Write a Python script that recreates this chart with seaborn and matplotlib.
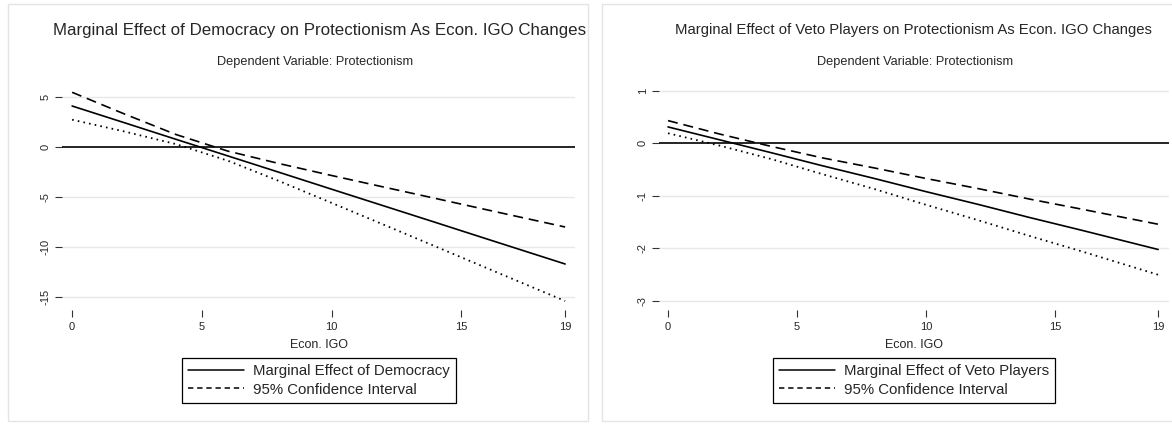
"""Marginal effect plots (Stata-style) redrawn with seaborn."""

import matplotlib
matplotlib.use('Agg')
import numpy as np
import pandas as pd
import matplotlib.pyplot as plt
from matplotlib.lines import Line2D
from matplotlib.patches import Rectangle
import seaborn as sns


# ---------------------------------------------------------------------------
# Data
# ---------------------------------------------------------------------------

econ_igo = [0, 2, 4, 6, 8, 10, 12, 14, 16, 19]

dem_effect = [4.10, 2.44, 0.77, -0.89, -2.55, -4.22, -5.88, -7.54, -9.21, -11.70]
dem_upper = [5.47, 3.32, 1.25, -0.41, -1.67, -2.85, -4.00, -5.14, -6.29, -8.00]
dem_lower = [2.73, 1.56, 0.29, -1.37, -3.43, -5.59, -7.76, -9.94, -12.13, -15.40]

veto_effect = [0.31, 0.065, -0.18, -0.43, -0.67, -0.92, -1.16, -1.41, -1.65, -2.02]
veto_upper = [0.43, 0.175, -0.06, -0.28, -0.47, -0.67, -0.86, -1.06, -1.25, -1.54]
veto_lower = [0.19, -0.045, -0.30, -0.59, -0.87, -1.17, -1.46, -1.76, -2.05, -2.50]

dem_yticks = [5, 0, -5, -10, -15]
veto_yticks = [1, 0, -1, -2, -3]
xticks = [0, 5, 10, 15, 19]

SUBTITLE = 'Dependent Variable: Protectionism'
XLABEL = 'Econ. IGO'
CI_LABEL = '95% Confidence Interval'

W, H = 1172, 425


def fx(px):
    return px / W


def fy(py):
    return 1 - py / H


def draw_panel(fig, rect, effect, upper, lower, xlim, ylim, yticks):
    ax = fig.add_axes(rect)
    df = pd.DataFrame({'x': econ_igo, 'effect': effect, 'upper': upper, 'lower': lower})

    for y in yticks:
        if y != 0:
            ax.axhline(y, color='#e8e8e8', linewidth=1.0, zorder=0)
    ax.axhline(0, color='black', linewidth=1.2, zorder=1)

    sns.lineplot(data=df, x='x', y='effect', ax=ax, color='black', linewidth=1.2)
    sns.lineplot(data=df, x='x', y='upper', ax=ax, color='black', linewidth=1.2,
                 dashes=False, linestyle=(0, (6, 3.5)))
    sns.lineplot(data=df, x='x', y='lower', ax=ax, color='black', linewidth=1.3,
                 linestyle=(0, (0.9, 2.3)))

    ax.set_xlim(*xlim)
    ax.set_ylim(*ylim)
    ax.set_xticks(xticks)
    ax.set_yticks(yticks)
    ax.set_yticklabels([str(t) for t in yticks], rotation=90, va='center')
    ax.tick_params(axis='both', direction='out', length=5, width=0.8,
                   color='#333333', labelsize=8, pad=3, bottom=True, left=True)
    ax.tick_params(axis='x', pad=4)
    for s in ax.spines.values():
        s.set_visible(False)
    ax.grid(False)
    ax.set_ylabel('')
    ax.set_xlabel(XLABEL, fontsize=9, labelpad=5)
    if ax.get_legend():
        ax.get_legend().remove()
    return ax


def add_legend(fig, ax, label, cx):
    handles = [
        Line2D([], [], color='black', linewidth=1.1),
        Line2D([], [], color='black', linewidth=1.1, linestyle=(0, (3.5, 2.5))),
    ]
    ax.legend(handles, [label, CI_LABEL], loc='upper center',
              bbox_to_anchor=(fx(cx), fy(358)), bbox_transform=fig.transFigure,
              fontsize=10.8, frameon=True, fancybox=False, edgecolor='black',
              framealpha=1, handlelength=3.7, handletextpad=0.6,
              labelspacing=0.3, borderpad=0.4, borderaxespad=0)
    ax.get_legend().get_frame().set_linewidth(0.9)


sns.set_theme(style='white')
plt.rcParams['font.family'] = ['Liberation Sans', 'DejaVu Sans']

fig = plt.figure(figsize=(W / 100, H / 100), dpi=100)

# panel frames
for x0 in (8, 602):
    fig.patches.append(Rectangle((fx(x0), fy(421)), fx(580), 417 / H,
                                 transform=fig.transFigure, fill=False,
                                 edgecolor='#e4e4e4', linewidth=1.0))

ax1 = draw_panel(fig, [fx(62), fy(310), fx(513), 222 / H],
                 dem_effect, dem_upper, dem_lower,
                 (-0.39, 19.38), (-16.3, 5.9), dem_yticks)
ax2 = draw_panel(fig, [fx(659), fy(310), fx(510), 222 / H],
                 veto_effect, veto_upper, veto_lower,
                 (-0.35, 19.42), (-3.17, 1.05), veto_yticks)

fig.text(fx(320), fy(31), 'Marginal Effect of Democracy on Protectionism As Econ. IGO Changes',
         ha='center', va='center', fontsize=12.2)
fig.text(fx(913), fy(30), 'Marginal Effect of Veto Players on Protectionism As Econ. IGO Changes',
         ha='center', va='center', fontsize=10.7)
fig.text(fx(315), fy(62), SUBTITLE, ha='center', va='center', fontsize=9.2)
fig.text(fx(915), fy(62), SUBTITLE, ha='center', va='center', fontsize=9.2)

add_legend(fig, ax1, 'Marginal Effect of Democracy', 319)
add_legend(fig, ax2, 'Marginal Effect of Veto Players', 914)

fig.savefig('out.png', dpi=100)
